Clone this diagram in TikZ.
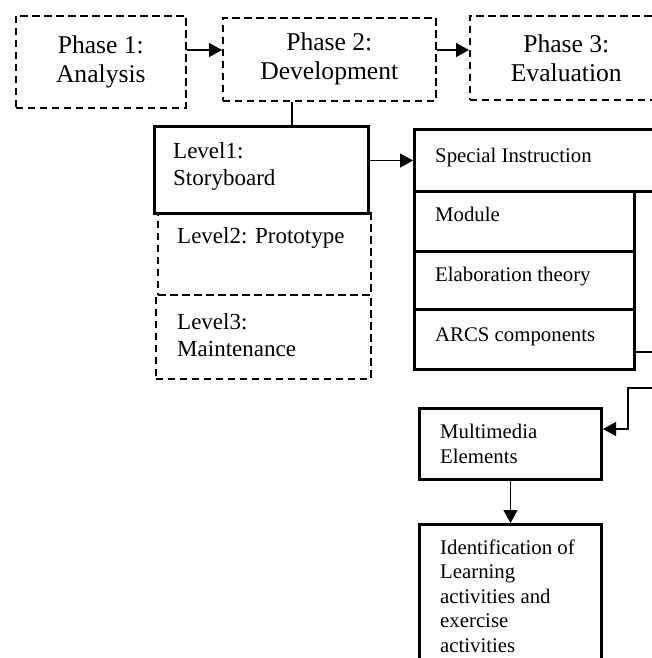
\documentclass[tikz,border=0pt]{standalone}
\usepackage{fontspec}
\setmainfont{Liberation Serif}
\usetikzlibrary{arrows.meta}
\tikzset{
    phasebox/.style={draw,line width=1.6pt,dash pattern=on 7.5pt off 4.5pt,anchor=north west,inner sep=0pt,align=center,font=\fontsize{25.6}{29}\selectfont},
    dashbox/.style={draw,line width=1.6pt,dash pattern=on 7.5pt off 4.5pt,anchor=north west,inner sep=0pt},
    solidbox/.style={draw,line width=3pt,anchor=north west,inner sep=0pt},
    leveltext/.style={anchor=base west,inner sep=0pt,align=left,font=\fontsize{23}{26.5}\selectfont},
    boxtext/.style={anchor=base west,inner sep=0pt,align=left,font=\fontsize{20.8}{24.5}\selectfont},
    link/.style={line width=1.5pt},
    >={Triangle[length=13pt,width=14pt]}
}
\begin{document}
\begin{tikzpicture}[x=1pt,y=-1pt]
    \useasboundingbox (0,0) rectangle (652,658);
    \node [phasebox,minimum width=170pt,minimum height=92pt] (phaseone) at (15,15) {Phase 1:\\Analysis};
    \node [phasebox,minimum width=213pt,minimum height=83pt] (phasetwo) at (222,17) {Phase 2:\\Development};
    \node [phasebox,minimum width=193pt,minimum height=84pt] (phasethree) at (469,15) {Phase 3:\\Evaluation};
    \draw [link,->] (phaseone.east |- 0,50) -- (phasetwo.west |- 0,50);
    \draw [link,->] (phasetwo.east |- 0,50) -- (phasethree.west |- 0,50);
    \node [solidbox,minimum width=214pt,minimum height=87pt] (levelone) at (153,125) {};
    \node [dashbox,minimum width=213pt,minimum height=82pt] (leveltwo) at (157,212) {};
    \node [dashbox,minimum width=215pt,minimum height=84pt] (levelthree) at (155,294) {};
    \node [leveltext] (levelonetext) at (173,185) {Level1:\\Storyboard};
    \node [leveltext] (leveltwotext) at (177,243) {Level2: Prototype};
    \node [leveltext] (levelthreetext) at (177,356) {Level3:\\Maintenance};
    \draw [link] (292,0 |- phasetwo.south) -- (292,0 |- levelone.north);
    \node [solidbox,minimum width=280pt,minimum height=62pt] (special) at (413,128) {};
    \node [solidbox,minimum width=220pt,minimum height=60pt] (module) at (413,190) {};
    \node [solidbox,minimum width=220pt,minimum height=58pt] (elab) at (413,250) {};
    \node [solidbox,minimum width=220pt,minimum height=60pt] (arcs) at (413,308) {};
    \node [boxtext] (specialtext) at (435,162) {Special Instruction};
    \node [boxtext] (moduletext) at (435,221) {Module};
    \node [boxtext] (elabtext) at (435,281) {Elaboration theory};
    \node [boxtext] (arcstext) at (435,341) {ARCS components};
    \draw [link,->] (levelone.east |- special.west) -- (special.west);
    \node [solidbox,minimum width=182pt,minimum height=71pt] (multi) at (418,407) {};
    \node [solidbox,minimum width=182pt,minimum height=180pt] (ident) at (418,523) {};
    \node [boxtext] (multitext) at (440,463) {Multimedia\\Elements};
    \node [boxtext] (identtext) at (440,652) {Identification of\\Learning\\activities and\\exercise\\activities};
    \draw [link,->] (arcs.east |- 0,352) -- (680,352) -- (680,388) -- (628,388) -- (628,429) -- (multi.east |- 0,429);
    \draw [link,->] (multi.south) -- (ident.north);
\end{tikzpicture}
\end{document}
